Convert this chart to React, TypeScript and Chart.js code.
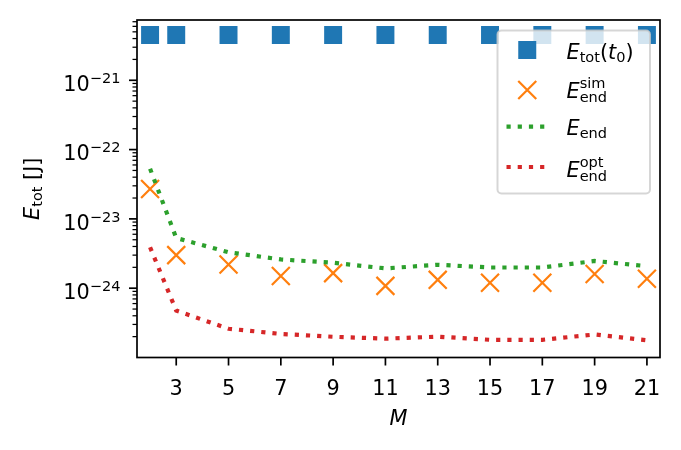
import React, { useEffect, useRef } from 'react';
import { Chart, registerables } from 'chart.js';

Chart.register(...registerables);

// ---------- data ----------
const M_VALUES = [2, 3, 5, 7, 9, 11, 13, 15, 17, 19, 21];
const E_TOT_T0 = [4.5e-21, 4.5e-21, 4.5e-21, 4.5e-21, 4.5e-21, 4.5e-21, 4.5e-21, 4.5e-21, 4.5e-21, 4.5e-21, 4.5e-21];
const E_END_SIM = [2.7e-23, 3.0e-24, 2.2e-24, 1.5e-24, 1.65e-24, 1.08e-24, 1.32e-24, 1.2e-24, 1.2e-24, 1.6e-24, 1.37e-24];
const E_END = [5.3e-23, 5.3e-24, 3.3e-24, 2.6e-24, 2.33e-24, 1.93e-24, 2.18e-24, 1.99e-24, 1.99e-24, 2.47e-24, 2.08e-24];
const E_END_OPT = [3.9e-24, 4.75e-25, 2.6e-25, 2.19e-25, 1.99e-25, 1.87e-25, 2.0e-25, 1.8e-25, 1.8e-25, 2.15e-25, 1.77e-25];

const X_TICKS = [3, 5, 7, 9, 11, 13, 15, 17, 19, 21];
const Y_DECADES = [-25, -24, -23, -22, -21, -20];
const X_MIN = 1.5;
const X_MAX = 21.5;
const Y_MIN = 1.11e-25;
const Y_MAX = 7.41e-21;

const C_BLUE = '#1f77b4';
const C_ORANGE = '#ff7f0e';
const C_GREEN = '#2ca02c';
const C_RED = '#d62728';

const FONT = '"DejaVu Sans", "Liberation Sans", sans-serif';
const FS = 20.8;
const SUB = 0.7;

type Run = { t?: string; it?: boolean; s?: number; dy?: number; sup?: string; sub?: string; supDy?: number; subDy?: number };

function setFont(ctx: CanvasRenderingContext2D, size: number, italic?: boolean) {
  ctx.font = `${italic ? 'italic ' : ''}${size}px ${FONT}`;
}

function runsWidth(ctx: CanvasRenderingContext2D, runs: Run[]) {
  let w = 0;
  for (const r of runs) {
    if (r.sup !== undefined || r.sub !== undefined) {
      setFont(ctx, FS * SUB);
      const a = r.sup ? ctx.measureText(r.sup).width : 0;
      const b = r.sub ? ctx.measureText(r.sub).width : 0;
      w += Math.max(a, b);
    } else {
      setFont(ctx, FS * (r.s ?? 1), r.it);
      w += ctx.measureText(r.t || '').width;
    }
  }
  return w;
}

function drawRuns(ctx: CanvasRenderingContext2D, runs: Run[], x: number, y: number) {
  let cx = x;
  ctx.textAlign = 'left';
  ctx.textBaseline = 'alphabetic';
  for (const r of runs) {
    if (r.sup !== undefined || r.sub !== undefined) {
      setFont(ctx, FS * SUB);
      let w = 0;
      if (r.sup) {
        ctx.fillText(r.sup, cx, y + (r.supDy ?? -10));
        w = Math.max(w, ctx.measureText(r.sup).width);
      }
      if (r.sub) {
        ctx.fillText(r.sub, cx, y + (r.subDy ?? 4));
        w = Math.max(w, ctx.measureText(r.sub).width);
      }
      cx += w;
    } else {
      setFont(ctx, FS * (r.s ?? 1), r.it);
      ctx.fillText(r.t || '', cx, y + (r.dy ?? 0));
      cx += ctx.measureText(r.t || '').width;
    }
  }
}

const LEGEND_LABELS: Run[][] = [
  [{ t: 'E', it: true }, { t: 'tot', s: SUB, dy: 3 }, { t: '(' }, { t: 't', it: true }, { t: '0', s: SUB, dy: 3 }, { t: ')' }],
  [{ t: 'E', it: true }, { sup: 'sim', sub: 'end', supDy: -10, subDy: 4 }],
  [{ t: 'E', it: true }, { t: 'end', s: SUB, dy: 3 }],
  [{ t: 'E', it: true }, { sup: 'opt', sub: 'end', supDy: -10, subDy: 4 }],
];

const overlayPlugin = {
  id: 'overlay',
  afterDraw(chart: any) {
    const ctx: CanvasRenderingContext2D = chart.ctx;
    const { left, right, top, bottom } = chart.chartArea;
    const xs = chart.scales.x;
    const ys = chart.scales.y;
    ctx.save();
    ctx.fillStyle = '#000';
    ctx.strokeStyle = '#000';

    // spines
    ctx.lineWidth = 1.7;
    ctx.strokeRect(left, top, right - left, bottom - top);

    // x ticks
    ctx.lineWidth = 1.7;
    for (const v of X_TICKS) {
      const px = xs.getPixelForValue(v);
      ctx.beginPath();
      ctx.moveTo(px, bottom);
      ctx.lineTo(px, bottom + 8);
      ctx.stroke();
      setFont(ctx, FS);
      ctx.textAlign = 'center';
      ctx.textBaseline = 'alphabetic';
      ctx.fillText(String(v), px, 394.5);
    }

    // y ticks
    for (const e of Y_DECADES) {
      for (let m = 1; m <= 9; m++) {
        const v = m * Math.pow(10, e);
        if (v < Y_MIN || v > Y_MAX) continue;
        const py = ys.getPixelForValue(v);
        const major = m === 1;
        ctx.lineWidth = major ? 1.7 : 1.25;
        ctx.beginPath();
        ctx.moveTo(left, py);
        ctx.lineTo(left - (major ? 8 : 4.5), py);
        ctx.stroke();
        if (major) {
          const runs: Run[] = [{ t: '10' }, { t: '\u2212' + String(-e), s: SUB, dy: -8 }];
          const w = runsWidth(ctx, runs);
          drawRuns(ctx, runs, 120.5 - w, py + 10.8);
        }
      }
    }

    // x label
    setFont(ctx, FS, true);
    ctx.textAlign = 'center';
    ctx.fillText('M', (left + right) / 2, 425);

    // y label
    ctx.save();
    ctx.translate(38.5, (top + bottom) / 2);
    ctx.rotate(-Math.PI / 2);
    const yl: Run[] = [{ t: 'E', it: true }, { t: 'tot', s: SUB, dy: 3 }, { t: ' [J]' }];
    const yw = runsWidth(ctx, yl);
    drawRuns(ctx, yl, -yw / 2, 0);
    ctx.restore();

    // legend
    const lx = 497.5, ly = 30.5, lw = 152.5, lh = 163;
    ctx.beginPath();
    (ctx as any).roundRect(lx, ly, lw, lh, 4);
    ctx.fillStyle = 'rgba(255,255,255,0.8)';
    ctx.fill();
    ctx.lineWidth = 2;
    ctx.strokeStyle = 'rgba(204,204,204,0.8)';
    ctx.stroke();

    const hx0 = 506.5, hx1 = 548, hc = (hx0 + hx1) / 2;
    const rowsY = [50, 90, 126.7, 167];
    const baseOff = [8.5, 8, 8.5, 10];
    // square
    ctx.fillStyle = C_BLUE;
    ctx.fillRect(hc - 9, rowsY[0] - 9, 18, 18);
    // cross
    ctx.strokeStyle = C_ORANGE;
    ctx.lineWidth = 2.2;
    ctx.beginPath();
    ctx.moveTo(hc - 9, rowsY[1] - 9);
    ctx.lineTo(hc + 9, rowsY[1] + 9);
    ctx.moveTo(hc + 9, rowsY[1] - 9);
    ctx.lineTo(hc - 9, rowsY[1] + 9);
    ctx.stroke();
    // dotted lines
    ctx.lineWidth = 4.2;
    ctx.lineCap = 'butt';
    ctx.setLineDash([4.2, 7]);
    ctx.strokeStyle = C_GREEN;
    ctx.beginPath();
    ctx.moveTo(hx0, rowsY[2]);
    ctx.lineTo(hx1, rowsY[2]);
    ctx.stroke();
    ctx.strokeStyle = C_RED;
    ctx.beginPath();
    ctx.moveTo(hx0, rowsY[3]);
    ctx.lineTo(hx1, rowsY[3]);
    ctx.stroke();
    ctx.setLineDash([]);

    ctx.fillStyle = '#000';
    LEGEND_LABELS.forEach((runs, i) => {
      drawRuns(ctx, runs, 566.5, rowsY[i] + baseOff[i]);
    });

    ctx.restore();
  },
};

export default function App() {
  const ref = useRef<HTMLCanvasElement | null>(null);

  useEffect(() => {
    if (!ref.current) return;
    const pts = (ys: number[]) => M_VALUES.map((m, i) => ({ x: m, y: ys[i] }));
    const chart = new Chart(ref.current, {
      type: 'line',
      data: {
        datasets: [
          {
            label: 'E_tot(t0)',
            data: pts(E_TOT_T0),
            showLine: false,
            pointStyle: 'rect',
            pointRadius: 12.7,
            pointBackgroundColor: C_BLUE,
            pointBorderWidth: 0,
            backgroundColor: C_BLUE,
            borderColor: C_BLUE,
            order: 4,
          },
          {
            label: 'E_end^sim',
            data: pts(E_END_SIM),
            showLine: false,
            pointStyle: 'crossRot',
            pointRadius: 12.7,
            pointBorderColor: C_ORANGE,
            pointBorderWidth: 2.2,
            borderColor: C_ORANGE,
            order: 3,
          },
          {
            label: 'E_end',
            data: pts(E_END),
            pointRadius: 0,
            borderColor: C_GREEN,
            borderWidth: 4.2,
            borderDash: [4.2, 7],
            borderCapStyle: 'butt',
            tension: 0,
            order: 2,
          },
          {
            label: 'E_end^opt',
            data: pts(E_END_OPT),
            pointRadius: 0,
            borderColor: C_RED,
            borderWidth: 4.2,
            borderDash: [4.2, 7],
            borderCapStyle: 'butt',
            tension: 0,
            order: 1,
          },
        ] as any,
      },
      options: {
        animation: false,
        responsive: false,
        devicePixelRatio: 1,
        layout: { padding: { left: 137, top: 20, right: 21, bottom: 92.5 } },
        plugins: { legend: { display: false }, tooltip: { enabled: false } },
        events: [],
        scales: {
          x: { type: 'linear', min: X_MIN, max: X_MAX, display: false },
          y: { type: 'logarithmic', min: Y_MIN, max: Y_MAX, display: false },
        },
      },
      plugins: [overlayPlugin],
    });
    return () => chart.destroy();
  }, []);

  return (
    <div style={{ position: 'fixed', left: 0, top: 0, width: 681, height: 450, background: '#fff' }}>
      <canvas ref={ref} width={681} height={450} style={{ width: 681, height: 450, display: 'block' }} />
    </div>
  );
}
